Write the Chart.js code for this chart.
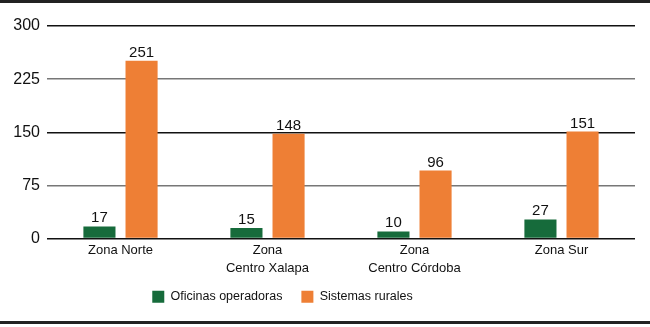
<!DOCTYPE html>
<html>
<head>
<meta charset="utf-8">
<script src="https://cdn.jsdelivr.net/npm/chart.js@4/dist/chart.umd.min.js"></script>
<style>
  html, body { margin: 0; padding: 0; background: #fff; }
  #wrap {
    position: absolute; left: 0; top: 0; width: 650px; height: 318px;
    border-top: 3px solid #222; border-bottom: 3px solid #222;
  }
  #wrap canvas { display: block; }
</style>
</head>
<body>
<div id="wrap"><canvas id="chart" width="650" height="318"></canvas></div>
<script>
// ── data ────────────────────────────────────────────────────────
const zonas     = [["Zona Norte"], ["Zona", "Centro Xalapa"], ["Zona", "Centro Córdoba"], ["Zona Sur"]];
const oficinas  = [17, 15, 10, 27];
const sistemas  = [251, 148, 96, 151];
const yTicks    = [0, 75, 150, 225, 300];

const GREEN  = "#166b3b";
const ORANGE = "#ee7f35";
const SANS   = "'Liberation Sans', Arial, sans-serif";

// value labels on top of every bar
const barValues = {
  id: "barValues",
  afterDatasetsDraw(chart) {
    const c = chart.ctx;
    c.save();
    c.font = "15px " + SANS;
    c.fillStyle = "#111";
    c.textAlign = "center";
    c.textBaseline = "alphabetic";
    chart.data.datasets.forEach((ds, i) => {
      chart.getDatasetMeta(i).data.forEach((bar, j) => {
        c.fillText(String(ds.data[j]), bar.x, bar.y - 4);
      });
    });
    c.restore();
  }
};

// the legend in the original sits left of centre
const legendShift = {
  id: "legendShift",
  afterLayout(chart) {
    const lg = chart.legend;
    const dx = -35, dy = -8;
    lg.left += dx; lg.right += dx;
    lg.top += dy;  lg.bottom += dy;
    if (lg.legendHitBoxes) lg.legendHitBoxes.forEach(h => { h.left += dx; h.top += dy; });
  }
};

new Chart(document.getElementById("chart"), {
  type: "bar",
  data: {
    labels: zonas,
    datasets: [
      { label: "Oficinas operadoras", data: oficinas, backgroundColor: GREEN },
      { label: "Sistemas rurales",    data: sistemas, backgroundColor: ORANGE },
    ],
  },
  options: {
    responsive: false,
    animation: false,
    categoryPercentage: 0.573,
    barPercentage: 0.762,
    layout: { padding: { top: 23, right: 15, bottom: 0, left: 0 } },
    plugins: {
      legend: {
        position: "bottom",
        labels: {
          boxWidth: 12, boxHeight: 12, padding: 19,
          color: "#111",
          font: { family: SANS, size: 12.5 },
        },
      },
      tooltip: { enabled: false },
    },
    scales: {
      x: {
        grid: { display: false, drawTicks: false },
        border: { display: false },
        ticks: { color: "#111", padding: 2, font: { family: SANS, size: 13, lineHeight: 1.45 } },
        afterFit: s => { s.height = 41; },
      },
      y: {
        min: 0, max: 300,
        afterBuildTicks: s => { s.ticks = yTicks.map(v => ({ value: v })); },
        border: { display: false },
        grid: {
          drawTicks: false,
          lineWidth: 1.5,
          color: ctx => (ctx.tick && ctx.tick.value % 150 === 0) ? "#111" : "#777",
        },
        ticks: { color: "#111", padding: 7, font: { family: SANS, size: 16 } },
        afterFit: s => { s.width = 47; },
      },
    },
  },
  plugins: [barValues, legendShift],
});
</script>
</body>
</html>
